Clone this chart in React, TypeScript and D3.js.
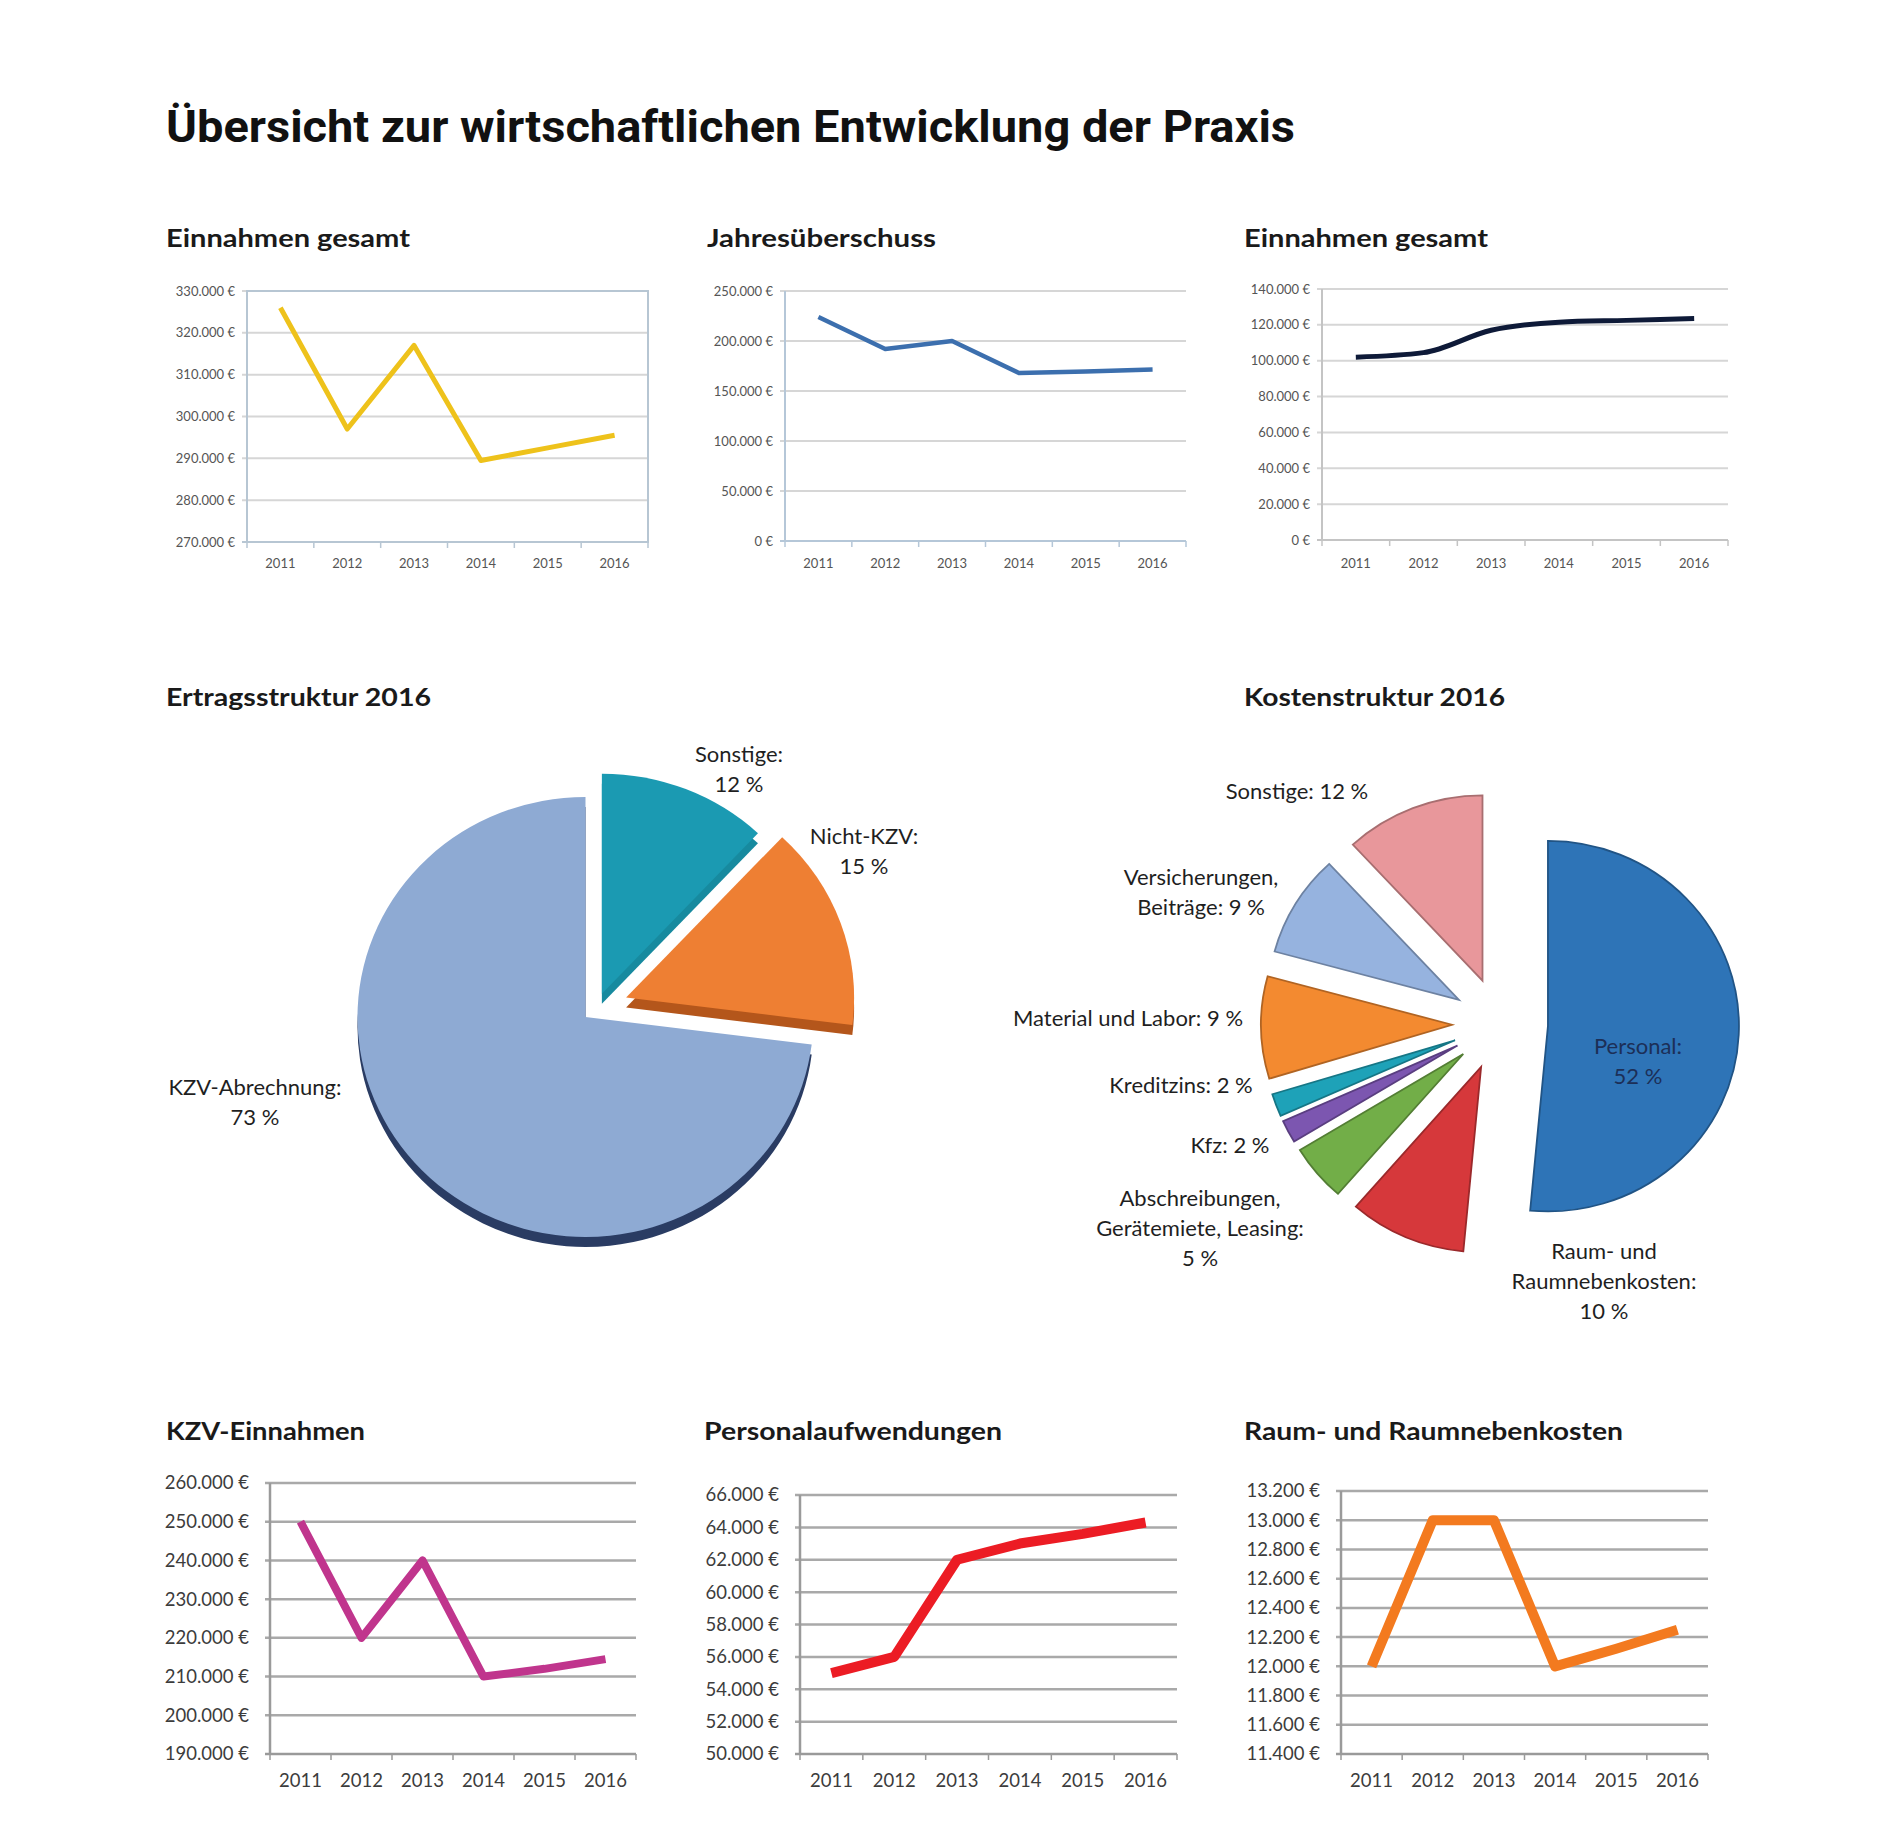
import React from 'react';
import * as d3 from 'd3';

// Jahre und Zeitreihen
const years = ['2011', '2012', '2013', '2014', '2015', '2016'];
const einnahmenGesamt = [326000, 297000, 317000, 289500, 292500, 295500];
const jahresueberschuss = [224000, 192000, 200000, 168000, 169500, 171500];
const einnahmenGesamtB = [102000, 104500, 117000, 121500, 122500, 123500];
const kzvEinnahmen = [250000, 220000, 240000, 210000, 212000, 214500];
const personalaufwendungen = [55000, 56000, 62000, 63000, 63600, 64300];
const raumkosten = [12000, 13000, 13000, 12000, 12120, 12250];

// Ertragsstruktur 2016
const ertragNames = ['Sonstige:', 'Nicht-KZV:', 'KZV-Abrechnung:'];
const ertragValues = [12, 15, 73];

// Kostenstruktur 2016
const kostenNames = ['Personal', 'Raum', 'Abschreibungen', 'Kfz', 'Kreditzins', 'Material', 'Versicherungen', 'Sonstige'];
const kostenValues = [52, 10, 5, 2, 2, 9, 9, 12];

const locale = d3.formatLocale({ decimal: ',', thousands: '.', grouping: [3], currency: ['', ' €'] });
const euro = (v: number) => locale.format(',.0f')(v) + ' €';

const LABEL_FONT = 'Lato, "Open Sans", sans-serif';

interface LineChartProps {
  left: number; right: number; top: number; bottom: number;
  domain: [number, number]; step: number; values: number[];
  color: string; lineWidth: number; fontSize: number; labelGap: number;
  labelColor: string; gridColor: string; gridWidth: number;
  frame?: string; axisColor: string; xLabelY: number; curve?: boolean;
}

const LineChart: React.FC<LineChartProps> = (p) => {
  const x = d3.scaleBand<string>().domain(years).range([p.left, p.right]);
  const y = d3.scaleLinear().domain(p.domain).range([p.bottom, p.top]);
  const ticks = d3.range(p.domain[0], p.domain[1] + p.step / 2, p.step);
  const line = d3.line<number>()
    .x((_, i) => (x(years[i]) || 0) + x.bandwidth() / 2)
    .y(d => y(d))
    .curve(p.curve ? d3.curveMonotoneX : d3.curveLinear);
  const bounds = d3.range(0, years.length + 1).map(i => p.left + i * x.step());
  return (
    <g>
      {ticks.map(t => (
        <g key={t}>
          <line x1={p.left - 5} x2={p.right} y1={y(t)} y2={y(t)}
            stroke={t === p.domain[0] ? p.axisColor : p.gridColor} strokeWidth={p.gridWidth} />
          <text x={p.left - p.labelGap} y={y(t)} dy="0.35em" textAnchor="end"
            fontSize={p.fontSize} fill={p.labelColor} fontFamily={LABEL_FONT}>{euro(t)}</text>
        </g>
      ))}
      <line x1={p.left} x2={p.left} y1={p.top} y2={p.bottom} stroke={p.axisColor} strokeWidth={p.gridWidth} />
      {bounds.map((b, i) => (
        <line key={i} x1={b} x2={b} y1={p.bottom} y2={p.bottom + 6} stroke={p.axisColor} strokeWidth={1.5} />
      ))}
      {p.frame && (
        <rect x={p.left} y={p.top} width={p.right - p.left} height={p.bottom - p.top}
          fill="none" stroke={p.frame} strokeWidth={2} />
      )}
      {years.map(yr => (
        <text key={yr} x={(x(yr) || 0) + x.bandwidth() / 2} y={p.xLabelY} dy="0.35em" textAnchor="middle"
          fontSize={p.fontSize} fill={p.labelColor} fontFamily={LABEL_FONT}>{yr}</text>
      ))}
      <path d={line(p.values) || ''} fill="none" stroke={p.color} strokeWidth={p.lineWidth}
        strokeLinejoin="round" strokeLinecap="butt" />
    </g>
  );
};

const Title: React.FC<{ x: number; y: number; w: number; text: string }> = ({ x, y, w, text }) => (
  <text x={x} y={y} fontSize={25} fontWeight={700} fontFamily={LABEL_FONT} fill="#1a1a1a"
    textLength={w} lengthAdjust="spacingAndGlyphs">{text}</text>
);

const Label: React.FC<{ x: number; y: number; lines: string[]; fill?: string }> = ({ x, y, lines, fill }) => (
  <text x={x} y={y} textAnchor="middle" fontSize={22} fontFamily={LABEL_FONT} fill={fill || '#1f1f1f'}>
    {lines.map((l, i) => <tspan key={i} x={x} dy={i === 0 ? 0 : 30}>{l}</tspan>)}
  </text>
);

const ErtragPie: React.FC = () => {
  const cx = 596, cy = 1008, rx = 228, ry = 220, depth = 10;
  const colors = ['#1b9ab2', '#ee7f33', '#8eaad3'];
  const sideColors = ['#178a9f', '#b4561b', '#2a3c63'];
  const explode = [16, 32, 14];
  const arcs = d3.pie<number>().sort(null).startAngle(0).endAngle(2 * Math.PI)(ertragValues);
  const arc = d3.arc<d3.PieArcDatum<number>>().innerRadius(0).outerRadius(rx);
  const sy = ry / rx;
  const off = (a: d3.PieArcDatum<number>, i: number) => {
    const m = (a.startAngle + a.endAngle) / 2;
    return [Math.sin(m) * explode[i], -Math.cos(m) * explode[i]];
  };
  return (
    <g transform={`translate(${cx},${cy}) scale(1,${sy})`}>
      {arcs.map((a, i) => {
        const [dx, dy] = off(a, i);
        return <path key={'s' + i} d={arc(a) || ''} fill={sideColors[i]}
          transform={`translate(${dx},${dy + depth / sy})`} />;
      })}
      {arcs.map((a, i) => {
        const [dx, dy] = off(a, i);
        return <path key={'t' + i} d={arc(a) || ''} fill={colors[i]} transform={`translate(${dx},${dy})`} />;
      })}
    </g>
  );
};

const KostenPie: React.FC = () => {
  const cx = 1500, cy = 1024, r = 191, sy = 0.97, explode = 48;
  const colors = ['#2e74b7', '#d6383b', '#72ae48', '#7c56b0', '#1ea2b8', '#f38a30', '#96b3df', '#e8979b'];
  const arcs = d3.pie<number>().sort(null).startAngle(0).endAngle(2 * Math.PI)(kostenValues);
  const arc = d3.arc<d3.PieArcDatum<number>>().innerRadius(0).outerRadius(r);
  return (
    <g transform={`translate(${cx},${cy}) scale(1,${sy})`}>
      {arcs.map((a, i) => {
        const m = (a.startAngle + a.endAngle) / 2;
        return <path key={kostenNames[i]} d={arc(a) || ''} fill={colors[i]}
          stroke={d3.color(colors[i])!.darker(0.9).formatHex()} strokeWidth={1.8}
          transform={`translate(${Math.sin(m) * explode},${-Math.cos(m) * explode})`} />;
      })}
    </g>
  );
};

const App: React.FC = () => {
  const top = { fontSize: 13, labelGap: 12, labelColor: '#555', gridColor: '#d6d6d6', gridWidth: 2, axisColor: '#c4c4c4', xLabelY: 563 };
  const bot = { fontSize: 18.5, labelGap: 21, labelColor: '#3c3c3c', gridColor: '#a9a9a9', gridWidth: 2.5, axisColor: '#9a9a9a', xLabelY: 1781 };
  return (
    <svg width={1900} height={1840} style={{ position: 'absolute', left: 0, top: 0, background: '#fff' }}>
      <rect width={1900} height={1840} fill="#fff" />
      <text x={166} y={142} fontSize={44} fontWeight={700} fontFamily='Roboto, "Liberation Sans", sans-serif'
        fill="#111" textLength={1129} lengthAdjust="spacingAndGlyphs">
        Übersicht zur wirtschaftlichen Entwicklung der Praxis
      </text>

      <Title x={166} y={247} w={244} text="Einnahmen gesamt" />
      <Title x={707} y={247} w={229} text="Jahresüberschuss" />
      <Title x={1244} y={247} w={244} text="Einnahmen gesamt" />

      <LineChart {...top} left={247} right={648} top={291} bottom={542} domain={[270000, 330000]} step={10000}
        values={einnahmenGesamt} color="#eec21b" lineWidth={5} frame="#b7c6d3" axisColor="#b7c6d3" />
      <LineChart {...top} left={785} right={1186} top={291} bottom={541} domain={[0, 250000]} step={50000}
        values={jahresueberschuss} color="#3c6fae" lineWidth={4.5} axisColor="#b5c7d8" />
      <LineChart {...top} left={1322} right={1728} top={289} bottom={540} domain={[0, 140000]} step={20000}
        values={einnahmenGesamtB} color="#0e1a38" lineWidth={5} curve />

      <Title x={166} y={706} w={265} text="Ertragsstruktur 2016" />
      <Title x={1244} y={706} w={261} text="Kostenstruktur 2016" />

      <ErtragPie />
      <Label x={739} y={762} lines={[ertragNames[0], `${ertragValues[0]} %`]} />
      <Label x={864} y={844} lines={[ertragNames[1], `${ertragValues[1]} %`]} />
      <Label x={255} y={1095} lines={[ertragNames[2], `${ertragValues[2]} %`]} />

      <KostenPie />
      <Label x={1297} y={799} lines={[`Sonstige: ${kostenValues[7]} %`]} />
      <Label x={1201} y={885} lines={['Versicherungen,', `Beiträge: ${kostenValues[6]} %`]} />
      <Label x={1128} y={1026} lines={[`Material und Labor: ${kostenValues[5]} %`]} />
      <Label x={1181} y={1093} lines={[`Kreditzins: ${kostenValues[4]} %`]} />
      <Label x={1230} y={1153} lines={[`Kfz: ${kostenValues[3]} %`]} />
      <Label x={1200} y={1206} lines={['Abschreibungen,', 'Gerätemiete, Leasing:', `${kostenValues[2]} %`]} />
      <Label x={1638} y={1054} lines={['Personal:', `${kostenValues[0]} %`]} fill="#1c2f57" />
      <Label x={1604} y={1259} lines={['Raum- und', 'Raumnebenkosten:', `${kostenValues[1]} %`]} />

      <Title x={166} y={1440} w={199} text="KZV-Einnahmen" />
      <Title x={704} y={1440} w={298} text="Personalaufwendungen" />
      <Title x={1244} y={1440} w={379} text="Raum- und Raumnebenkosten" />

      <LineChart {...bot} left={270} right={636} top={1483} bottom={1754} domain={[190000, 260000]} step={10000}
        values={kzvEinnahmen} color="#c0358d" lineWidth={8} />
      <LineChart {...bot} left={800} right={1177} top={1495} bottom={1754} domain={[50000, 66000]} step={2000}
        values={personalaufwendungen} color="#ec1c24" lineWidth={10} />
      <LineChart {...bot} left={1341} right={1708} top={1491} bottom={1754} domain={[11400, 13200]} step={200}
        values={raumkosten} color="#f37a1f" lineWidth={10} />
    </svg>
  );
};

export default App;
